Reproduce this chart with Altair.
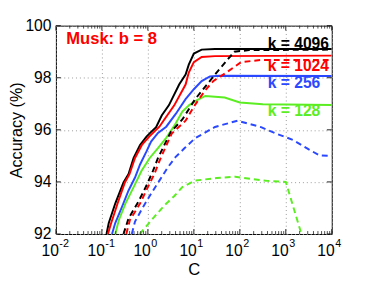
import altair as alt
import pandas as pd

# ---- data (C on log axis, accuracy in %) ----
C_4096 = [0.126, 0.141, 0.195, 0.295, 0.380, 0.490, 0.676, 0.933, 1.15, 1.51, 2.0, 2.88, 4.79, 6.61, 7.76, 10.0, 14.8, 28.8, 10000]
A_4096 = [92.0, 92.42, 93.17, 93.98, 94.3, 94.92, 95.42, 95.74, 95.9, 96.1, 96.55, 96.95, 97.74, 98.12, 98.5, 98.93, 99.08, 99.1, 99.1]

C_1024 = [0.135, 0.158, 0.219, 0.316, 0.398, 0.525, 0.741, 1.07, 1.78, 2.51, 3.72, 6.61, 7.76, 10.0, 14.8, 28.8, 10000]
A_1024 = [92.0, 92.4, 93.17, 93.98, 94.3, 94.92, 95.42, 95.74, 96.12, 96.5, 96.93, 97.74, 98.2, 98.6, 98.8, 98.83, 98.85]

C_256 = [0.166, 0.195, 0.275, 0.380, 0.525, 0.676, 0.933, 1.175, 1.66, 2.51, 4.07, 6.61, 10.0, 14.8, 22.4, 35.5, 10000]
A_256 = [92.0, 92.42, 93.05, 93.67, 94.17, 94.67, 95.17, 95.55, 95.88, 96.12, 96.62, 97.18, 97.56, 97.87, 98.05, 98.08, 98.07]

C_128 = [0.195, 0.234, 0.324, 0.490, 0.724, 1.096, 1.66, 2.455, 3.80, 5.62, 7.94, 11.2, 17.8, 46.8, 100, 316, 10000]
A_128 = [92.0, 92.54, 93.17, 93.8, 94.42, 94.92, 95.3, 95.67, 96.17, 96.7, 96.95, 97.12, 97.3, 97.24, 97.05, 96.98, 96.95]

# dashed curves
CD_4096 = [0.295, 0.380, 0.617, 0.933, 1.29, 1.66, 2.29, 3.16, 5.62, 10.7, 28.8, 75.9, 158, 10000]
AD_4096 = [92.0, 92.6, 93.23, 93.86, 94.42, 94.92, 95.42, 95.92, 96.4, 97.18, 98.12, 99.0, 99.06, 99.08]

CD_1024 = [0.339, 0.407, 0.676, 1.0, 1.38, 1.78, 2.455, 3.31, 6.61, 10.7, 17.4, 26.3, 55.0, 107, 282, 10000]
AD_1024 = [92.0, 92.54, 93.17, 93.8, 94.3, 94.8, 95.36, 95.86, 96.35, 96.97, 97.5, 97.87, 98.24, 98.6, 98.68, 98.68]

CD_256 = [0.447, 0.525, 0.794, 1.175, 1.78, 2.69, 3.98, 6.31, 10.7, 28.8, 89.1, 282, 631, 1445, 3162, 5370, 10000]
AD_256 = [92.0, 92.48, 93.05, 93.55, 94.05, 94.55, 94.95, 95.3, 95.68, 96.11, 96.35, 96.11, 95.85, 95.61, 95.25, 95.02, 95.0]

CD_128 = [0.661, 1.29, 2.29, 3.72, 5.62, 10.7, 31.6, 79.4, 200, 398, 1000, 2188]
AD_128 = [92.0, 92.6, 93.1, 93.45, 93.8, 94.05, 94.15, 94.2, 94.1, 94.04, 94.0, 92.0]

K_NAMES = ["4096", "1024", "256", "128"]
K_COLORS = ["#000000", "#FF0000", "#2A48FF", "#5CEE22"]

SOLID = {"4096": (C_4096, A_4096), "1024": (C_1024, A_1024), "256": (C_256, A_256), "128": (C_128, A_128)}
DASHED = {"4096": (CD_4096, AD_4096), "1024": (CD_1024, AD_1024), "256": (CD_256, AD_256), "128": (CD_128, AD_128)}

Y_TICKS = [92, 94, 96, 98, 100]
X_EXPONENTS = [-2, -1, 0, 1, 2, 3, 4]

# annotations (anchor in data coordinates)
LABEL_TEXT = ["k = 4096", "k = 1024", "k = 256", "k = 128"]
LABEL_C = [404, 404, 404, 404]
LABEL_A = [99.12, 98.24, 97.62, 96.52]
TITLE_TEXT = "Musk: b = 8"
TITLE_C = 0.0167
TITLE_A = 99.31

# ---- tables ----
rows = []
for k in K_NAMES:
    for c, a in zip(*SOLID[k]):
        rows.append({"C": c, "acc": a, "k": k, "series": k + "s"})
solid_df = pd.DataFrame(rows)
rows = []
for k in K_NAMES:
    for c, a in zip(*DASHED[k]):
        rows.append({"C": c, "acc": a, "k": k, "series": k + "d"})
dashed_df = pd.DataFrame(rows)

xdec = [10.0 ** e for e in X_EXPONENTS]
xlab_df = pd.DataFrame({"C": xdec, "exp": [str(e) for e in X_EXPONENTS]})
minor = [m * 10.0 ** e for e in X_EXPONENTS[:-1] for m in range(2, 10)]
xmaj_df = pd.DataFrame({"C": xdec})
xmin_df = pd.DataFrame({"C": minor})
ytick_df = pd.DataFrame({"v": Y_TICKS})
lab_df = pd.DataFrame({"C": LABEL_C, "acc": LABEL_A, "text": LABEL_TEXT, "k": K_NAMES})
ttl_df = pd.DataFrame({"C": [TITLE_C], "acc": [TITLE_A], "text": [TITLE_TEXT]})

FONT = "Liberation Sans"
xscale = alt.Scale(type="log", domain=[0.01, 10000], nice=False)
yscale = alt.Scale(domain=[92, 100], nice=False, zero=False)
cscale = alt.Scale(domain=K_NAMES, range=K_COLORS)

x_enc = alt.X("C:Q", scale=xscale,
              axis=alt.Axis(values=xdec, labels=False, ticks=False, domain=False, grid=True,
                            title="C", titleFontSize=17, titleFont=FONT, titleFontWeight="normal",
                            titleColor="black", titleY=41, titleBaseline="alphabetic"))
y_enc = alt.Y("acc:Q", scale=yscale,
              axis=alt.Axis(values=Y_TICKS, ticks=False, domain=False, grid=True,
                            labelFontSize=16, labelFont=FONT, labelColor="black", labelPadding=5,
                            title="Accuracy (%)", titleFontSize=16.5, titleFont=FONT,
                            titleFontWeight="normal", titleColor="black", titleAngle=-90,
                            titleX=-35, titleY=106.5, titleAlign="center",
                            titleBaseline="alphabetic"))

solid = alt.Chart(solid_df).mark_line(strokeWidth=2, clip=True).encode(
    x=x_enc, y=y_enc,
    color=alt.Color("k:N", scale=cscale, legend=None),
    detail="series:N", order="C:Q")

dashed = alt.Chart(dashed_df).mark_line(strokeWidth=2, strokeDash=[6, 4], clip=True).encode(
    x=alt.X("C:Q", scale=xscale), y=alt.Y("acc:Q", scale=yscale),
    color=alt.Color("k:N", scale=cscale, legend=None),
    detail="series:N", order="C:Q")

labels = alt.Chart(lab_df).mark_text(align="left", baseline="alphabetic", fontSize=16,
                                     fontWeight="bold", font=FONT).encode(
    x=alt.X("C:Q", scale=xscale), y=alt.Y("acc:Q", scale=yscale), text="text:N",
    color=alt.Color("k:N", scale=cscale, legend=None))

ttl = alt.Chart(ttl_df).mark_text(align="left", baseline="alphabetic", fontSize=17,
                                  fontWeight="bold", font=FONT, color="#FF0000").encode(
    x=alt.X("C:Q", scale=xscale), y=alt.Y("acc:Q", scale=yscale), text="text:N")

base10 = alt.Chart(xlab_df).mark_text(align="right", baseline="alphabetic", fontSize=16,
                                      font=FONT, color="black", dx=3).encode(
    x=alt.X("C:Q", scale=xscale), y=alt.value(235), text=alt.value("10"))
expo = alt.Chart(xlab_df).mark_text(align="left", baseline="alphabetic", fontSize=11,
                                    font=FONT, color="black", dx=3.5).encode(
    x=alt.X("C:Q", scale=xscale), y=alt.value(226.5), text="exp:N")

tick_color = "#222222"
xmaj_b = alt.Chart(xmaj_df).mark_rule(color=tick_color, strokeWidth=1).encode(
    x=alt.X("C:Q", scale=xscale), y=alt.value(213), y2=alt.value(208))
xmaj_t = alt.Chart(xmaj_df).mark_rule(color=tick_color, strokeWidth=1).encode(
    x=alt.X("C:Q", scale=xscale), y=alt.value(0), y2=alt.value(5))
xmin_b = alt.Chart(xmin_df).mark_rule(color=tick_color, strokeWidth=0.8).encode(
    x=alt.X("C:Q", scale=xscale), y=alt.value(213), y2=alt.value(210))
xmin_t = alt.Chart(xmin_df).mark_rule(color=tick_color, strokeWidth=0.8).encode(
    x=alt.X("C:Q", scale=xscale), y=alt.value(0), y2=alt.value(3))
y_l = alt.Chart(ytick_df).mark_rule(color=tick_color, strokeWidth=1).encode(
    y=alt.Y("v:Q", scale=yscale), x=alt.value(0), x2=alt.value(5))
y_r = alt.Chart(ytick_df).mark_rule(color=tick_color, strokeWidth=1).encode(
    y=alt.Y("v:Q", scale=yscale), x=alt.value(282), x2=alt.value(277))

chart = alt.layer(
    solid, dashed, labels, ttl, base10, expo, xmaj_b, xmaj_t, xmin_b, xmin_t, y_l, y_r
).properties(
    width=282, height=213,
    autosize=alt.AutoSizeParams(type="none"),
    padding={"left": 49, "top": 15, "right": 35, "bottom": 45},
    background="white",
).configure_view(
    stroke="black", strokeWidth=1
).configure_axis(
    gridColor="#9a9a9a", gridDash=[1, 3], gridWidth=1, gridOpacity=1
)

chart.save("out.html", embed_options={"renderer": "svg", "actions": False})
